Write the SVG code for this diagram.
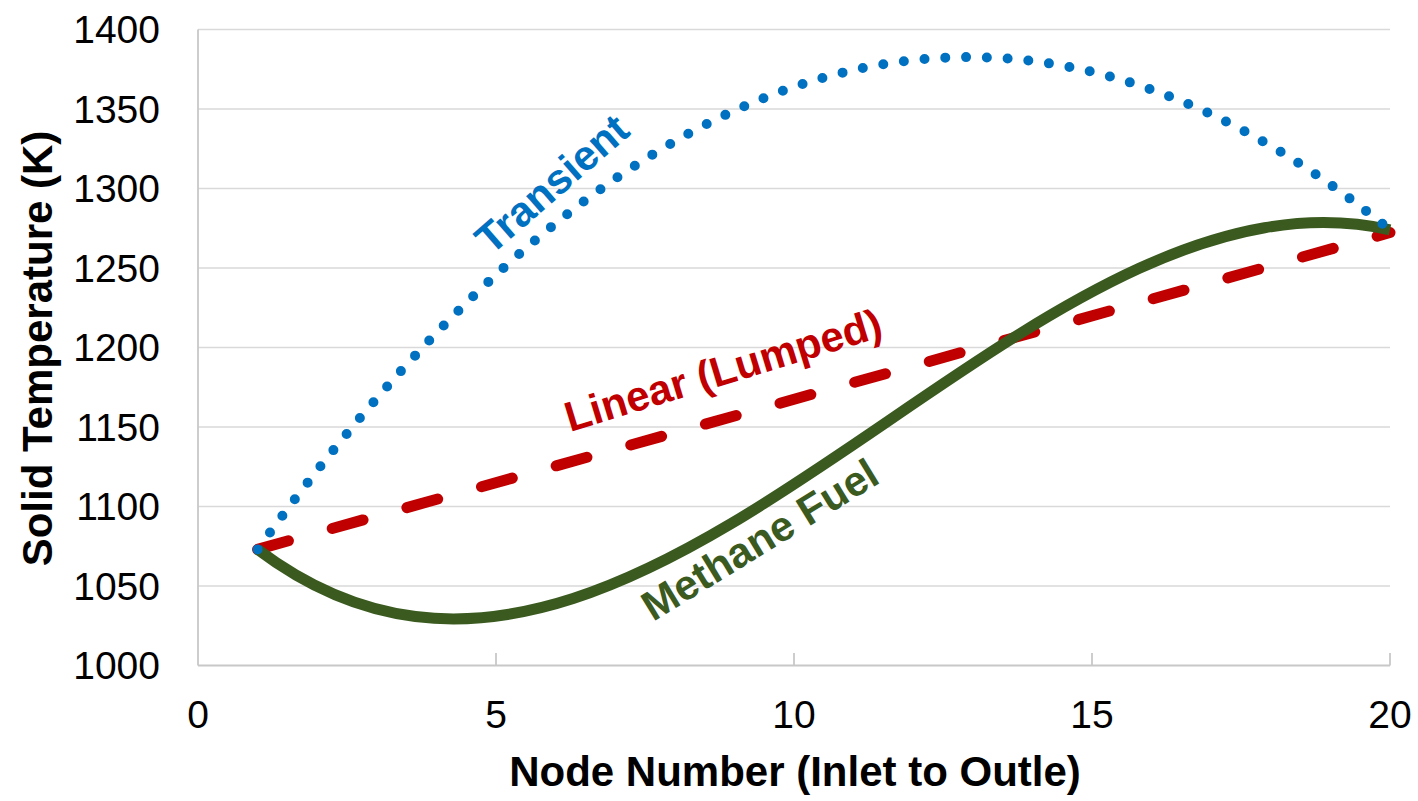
<svg xmlns="http://www.w3.org/2000/svg" width="1418" height="801" viewBox="0 0 1418 801">
  <style>
    .grid { stroke: #d9d9d9; stroke-width: 1.6; fill: none; }
    .axis { stroke: #c8c8c8; stroke-width: 1.8; fill: none; }
    .tick { font-family: "Liberation Sans", Arial, sans-serif; font-size: 39px; fill: #000; }
    .title { font-family: "Liberation Sans", Arial, sans-serif; font-size: 42px; font-weight: bold; fill: #000; text-anchor: middle; }
    .lbl { font-family: "Liberation Sans", Arial, sans-serif; font-size: 42px; font-weight: bold; }
    .linear { stroke: #c00000; stroke-width: 11; fill: none; stroke-linecap: round; stroke-dasharray: 32 45.5; }
    .methane { stroke: #3a5a1f; stroke-width: 11; fill: none; }
    .transient { stroke: #0070c0; stroke-width: 10; fill: none; stroke-linecap: round; stroke-dasharray: 0 20.8; }
  </style>
  <rect width="1418" height="801" fill="#ffffff"/>

  <!-- horizontal gridlines, 50 K apart -->
  <g id="gridlines">
    <line class="grid" x1="198" y1="29.5" x2="1390" y2="29.5"/>
    <line class="grid" x1="198" y1="109" x2="1390" y2="109"/>
    <line class="grid" x1="198" y1="188.5" x2="1390" y2="188.5"/>
    <line class="grid" x1="198" y1="268" x2="1390" y2="268"/>
    <line class="grid" x1="198" y1="347.5" x2="1390" y2="347.5"/>
    <line class="grid" x1="198" y1="427" x2="1390" y2="427"/>
    <line class="grid" x1="198" y1="506.5" x2="1390" y2="506.5"/>
    <line class="grid" x1="198" y1="586" x2="1390" y2="586"/>
  </g>

  <!-- axes with inward ticks -->
  <g id="axes">
    <line class="axis" x1="198" y1="29.5" x2="198" y2="665.5"/>
    <line class="axis" x1="198" y1="665.5" x2="1390" y2="665.5"/>
    <line class="axis" x1="496" y1="653" x2="496" y2="665.5"/>
    <line class="axis" x1="794" y1="653" x2="794" y2="665.5"/>
    <line class="axis" x1="1092" y1="653" x2="1092" y2="665.5"/>
    <line class="axis" x1="1390" y1="653" x2="1390" y2="665.5"/>
  </g>

  <g id="y-tick-labels" class="tick" text-anchor="end">
    <text x="160" y="43">1400</text>
    <text x="160" y="122.5">1350</text>
    <text x="160" y="202">1300</text>
    <text x="160" y="281.5">1250</text>
    <text x="160" y="361">1200</text>
    <text x="160" y="440.5">1150</text>
    <text x="160" y="520">1100</text>
    <text x="160" y="599.5">1050</text>
    <text x="160" y="679">1000</text>
  </g>

  <g id="x-tick-labels" class="tick" text-anchor="middle">
    <text x="198" y="728">0</text>
    <text x="496" y="728">5</text>
    <text x="794" y="728">10</text>
    <text x="1092" y="728">15</text>
    <text x="1390" y="728">20</text>
  </g>

  <g id="axis-titles">
    <text class="title" x="795" y="786">Node Number (Inlet to Outle)</text>
    <text class="title" transform="translate(51.5 348.5) rotate(-90)">Solid Temperature (K)</text>
  </g>

  <!-- data series (node 1 to node 20) -->
  <g id="series">
    <g id="series-linear">
      <line class="linear" x1="257.6" y1="549.4" x2="1390" y2="232.5"/>
    </g>
    <g id="series-methane">
      <path class="methane" d="M257.6,549.4 C635.1,834.5 1012.5,145 1390,229.8"/>
    </g>
    <g id="series-transient">
      <path class="transient" d="M257.6,549.4 C635.1,27.1 1012.5,-80 1390,230"/>
    </g>
  </g>

  <!-- series labels -->
  <g id="label-transient">
    <text class="lbl" fill="#0070c0" transform="translate(491 256) rotate(-41)">Transient</text>
  </g>
  <g id="label-linear">
    <text class="lbl" fill="#c00000" transform="translate(570 432) rotate(-17)">Linear (Lumped)</text>
  </g>
  <g id="label-methane">
    <text class="lbl" fill="#3a5a1f" transform="translate(653 622) rotate(-31.5)">Methane Fuel</text>
  </g>
</svg>
